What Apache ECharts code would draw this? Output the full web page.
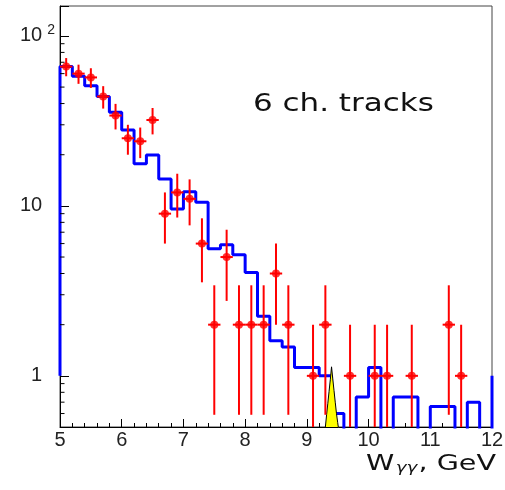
<!DOCTYPE html>
<html>
<head>
<meta charset="utf-8">
<script src="https://cdn.jsdelivr.net/npm/echarts@6/dist/echarts.min.js"></script>
<style>
html,body{margin:0;padding:0;background:#fff;}
#chart{width:505px;height:490px;}
</style>
</head>
<body>
<div id="chart"></div>
<script>
// ---- data ----
// histogram (blue): bin edges and bin contents (0 = empty bin)
const binEdges = [5.0, 5.2, 5.4, 5.6, 5.8, 6.0, 6.2, 6.4, 6.6, 6.8, 7.0, 7.2, 7.4, 7.6, 7.8,
  8.0, 8.2, 8.4, 8.6, 8.8, 9.0, 9.2, 9.4, 9.6, 9.8, 10.0, 10.2, 10.4, 10.6, 10.8,
  11.0, 11.2, 11.4, 11.6, 11.8, 12.0];
const binValues = [66, 58, 51, 44, 35.5, 28, 17.7, 19.9, 14.4, 9.6,
  12.1, 10.5, 5.6, 5.9, 5.15, 4.05, 2.24, 1.61, 1.48, 1.12,
  1.12, 1.0, 0.6, 0, 0.75, 1.12, 0, 0.75, 0.75, 0,
  0.66, 0.66, 0, 0.70, 0];
const histUnderflowLevel = 1.0;   // level where the outline starts at x = 5
const histOverflowLevel = 1.0;    // level of the outline at x = 12

// data points (red) with vertical errors
const pointX = [5.1, 5.3, 5.5, 5.7, 5.9, 6.1, 6.3, 6.5, 6.7, 6.9, 7.1, 7.3, 7.5, 7.7, 7.9,
  8.1, 8.3, 8.5, 8.7, 9.1, 9.3, 9.7, 10.1, 10.3, 10.7, 11.3, 11.5];
const pointY = [66, 60, 57, 44, 34, 25, 24, 32, 9, 12, 11, 6, 2, 5, 2,
  2, 2, 4, 2, 1, 2, 1, 1, 1, 1, 2, 1];
const pointErr = [8.1, 7.75, 7.55, 6.63, 5.83, 5.0, 4.9, 5.66, 3.0, 3.46, 3.32, 2.45, 1.41, 2.24, 1.41,
  1.41, 1.41, 2.0, 1.41, 1.0, 1.41, 1.0, 1.0, 1.0, 1.0, 1.41, 1.0];
const pointXErr = 0.1;

// yellow peak
const peakX = [9.29, 9.30, 9.32, 9.34, 9.36, 9.38, 9.40, 9.42, 9.44, 9.46, 9.48, 9.50, 9.52];
const peakY = [0.47, 0.50, 0.59, 0.69, 0.81, 0.95, 1.13, 0.96, 0.82, 0.70, 0.60, 0.53, 0.47];

// axes
const xLabels = ['5', '6', '7', '8', '9', '10', '11', '12'];
const yTickValues = [1, 10, 100];
const yTickTexts = ['{bp|1}', '{bp|10}', '{b|10}{s|2}'];
const yMinorTicks = [0.6, 0.7, 0.8, 0.9, 2, 3, 4, 5, 6, 7, 8, 9, 20, 30, 40, 50, 60, 70, 80, 90];
const textLabel = '6 ch. tracks';
const xTitle = 'W{s|γγ}, GeV';

// ---- build ----
const FLOOR = 0.01; // stand-in for empty bins on the log axis (below the visible range)
const disp = v => (v > 0 ? v : FLOOR);
const histData = [[binEdges[0], histUnderflowLevel]];
for (let i = 0; i < binValues.length; i++) histData.push([binEdges[i], disp(binValues[i])]);
histData.push([binEdges[binEdges.length - 1], disp(binValues[binValues.length - 1])]);
histData.push([binEdges[binEdges.length - 1], histOverflowLevel]);

const pts = pointX.map((x, i) => [x, pointY[i], pointErr[i]]);
const peakData = peakX.map((x, i) => [x, peakY[i]]);

const chart = echarts.init(document.getElementById('chart'), null, {renderer: 'canvas'});
const LBL = {fontFamily: 'Liberation Sans', fontSize: 20, color: '#222'};

chart.setOption({
  animation: false,
  backgroundColor: '#fff',
  grid: {left: 60, right: 13, top: 6, bottom: 63, show: true, borderColor: '#444', borderWidth: 1,
    backgroundColor: 'transparent', containLabel: false, outerBoundsMode: 'none'},
  xAxis: {
    type: 'value', min: 5, max: 12, interval: 1,
    axisLine: {show: true, onZero: false, lineStyle: {color: '#000', width: 1}},
    axisTick: {show: true, inside: true, length: 8, lineStyle: {color: '#000', width: 1}},
    minorTick: {show: true, splitNumber: 5, length: 4, lineStyle: {color: '#000', width: 1}},
    splitLine: {show: false},
    axisLabel: Object.assign({margin: 3, formatter: v => xLabels[Math.round(v) - 5] || ''}, LBL)
  },
  yAxis: {
    type: 'log', logBase: 10, min: 0.5, max: 150,
    axisLine: {show: true, onZero: false, lineStyle: {color: '#000', width: 1}},
    axisTick: {show: true, inside: true, length: 9, lineStyle: {color: '#000', width: 1}},
    splitLine: {show: false},
    axisLabel: Object.assign({
      margin: 5,
      formatter: v => {
        const r = Math.round(v * 1000) / 1000;
        const k = yTickValues.indexOf(r);
        return k >= 0 ? yTickTexts[k] : '';
      },
      rich: {
        b: {fontFamily: 'Liberation Sans', fontSize: 20, color: '#222'},
        bp: {fontFamily: 'Liberation Sans', fontSize: 20, color: '#222', padding: [0, 12.8, 0, 0]},
        s: {fontFamily: 'Liberation Sans', fontSize: 14, color: '#222', padding: [0, 0, 12, 5]}
      }
    }, LBL)
  },
  series: [
    {
      name: 'hist', type: 'line', step: 'end', data: histData, clip: true,
      symbol: 'none', showSymbol: false, z: 2,
      lineStyle: {color: '#0000ff', width: 3}
    },
    {
      name: 'peak', type: 'line', data: peakData, clip: true, symbol: 'none', showSymbol: false, z: 3,
      lineStyle: {color: '#000', width: 1},
      areaStyle: {color: '#ffff00', opacity: 1, origin: 'start'}
    },
    {
      name: 'err', type: 'custom', data: pts, clip: true, z: 4,
      encode: {x: 0, y: 1},
      renderItem: (params, api) => {
        const x = api.value(0), y = api.value(1), e = api.value(2);
        const lo = y - e > 0 ? y - e : FLOOR;
        const pTop = api.coord([x, y + e]);
        const pBot = api.coord([x, lo]);
        const pL = api.coord([x - pointXErr, y]);
        const pR = api.coord([x + pointXErr, y]);
        const st = {stroke: '#ff0000', lineWidth: 2};
        return {type: 'group', children: [
          {type: 'line', shape: {x1: pTop[0], y1: pTop[1], x2: pBot[0], y2: pBot[1]}, style: st},
          {type: 'line', shape: {x1: pL[0], y1: pL[1], x2: pR[0], y2: pR[1]}, style: st}
        ]};
      }
    },
    {
      name: 'points', type: 'scatter', data: pts.map(p => [p[0], p[1]]), z: 5,
      symbol: 'circle', symbolSize: 8, itemStyle: {color: '#ff0000'}
    },
    {
      name: 'yminor', type: 'custom', data: yMinorTicks.map(v => [5, v]), clip: false, z: 6, silent: true,
      encode: {x: 0, y: 1},
      renderItem: (params, api) => {
        const p = api.coord([api.value(0), api.value(1)]);
        return {type: 'line', shape: {x1: p[0], y1: p[1], x2: p[0] + 4.5, y2: p[1]},
          style: {stroke: '#000', lineWidth: 1}};
      }
    }
  ],
  graphic: [
    {type: 'text', x: 253, y: 105, scaleX: 1.29, silent: true,
      style: {text: textLabel, fontFamily: 'DejaVu Sans', fontSize: 24, fill: '#111',
        align: 'left', textAlign: 'left', verticalAlign: 'middle', textVerticalAlign: 'middle'}},
    {type: 'text', x: 496, y: 464, scaleX: 1.3, silent: true,
      style: {text: xTitle, fontFamily: 'DejaVu Sans', fontSize: 22, fill: '#111',
        align: 'right', textAlign: 'right', verticalAlign: 'middle', textVerticalAlign: 'middle',
        rich: {s: {fontFamily: 'DejaVu Sans', fontSize: 14, fontStyle: 'italic', fill: '#111', padding: [8, 1, 0, 1]}}}}
  ]
});
</script>
</body>
</html>
